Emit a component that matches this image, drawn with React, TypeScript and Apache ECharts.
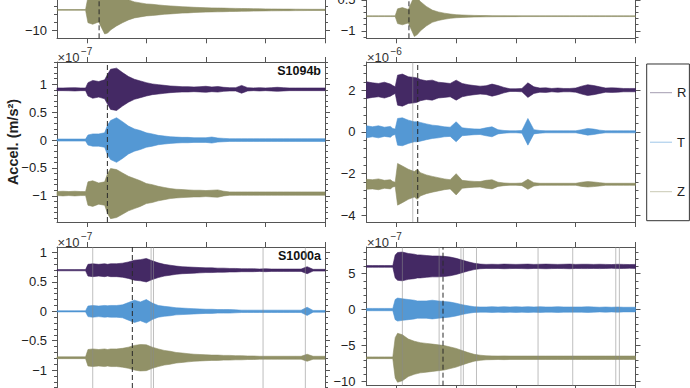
import React, { useEffect, useRef } from "react";
import * as echarts from "echarts";

// ---------- data ----------
const TIME = [
  -0.5, -0.4, -0.3, -0.2, -0.1, -0.06, -0.02,
  0.02, 0.1, 0.2, 0.3, 0.35, 0.4,
  0.5, 0.6, 0.7, 0.8, 0.9, 1.0,
  1.1, 1.2, 1.3, 1.4, 1.5, 1.6, 1.7, 1.8, 1.9, 2.0,
  2.1, 2.2, 2.3, 2.4, 2.5, 2.6, 2.7, 2.8, 2.9, 3.0,
  3.1, 3.2, 3.3, 3.4, 3.5, 3.6, 3.7, 3.8, 3.9, 4.0,
];
const X_TICKS = [0, 1, 2, 3, 4];
const COMPONENTS = ["R", "T", "Z"];

// envelope half-amplitudes (axis units) for each trace
const TOP_L_Z = [
  0.1, 0.1, 0.1, 0.1, 0.1, 0.1, 0.1,
  3.2, 3.6, 3.0, 6, 5.8, 5,
  4, 3.2, 2.5, 2, 1.75, 1.5,
  1.4, 1.25, 1.1, 1.0, 0.9, 0.8, 0.75, 0.65, 0.6, 0.55,
  0.5, 0.48, 0.45, 0.4, 0.38, 0.35, 0.32, 0.3, 0.28, 0.25,
  0.23, 0.22, 0.2, 0.2, 0.18, 0.17, 0.16, 0.15, 0.15, 0.15,
];
const TOP_R_Z = [
  0.006, 0.006, 0.006, 0.006, 0.006, 0.006, 0.006,
  0.12, 0.14, 0.11, 0.33, 0.3, 0.24,
  0.16, 0.1, 0.07, 0.05, 0.035, 0.025,
  0.02, 0.016, 0.013, 0.011, 0.01, 0.009, 0.008, 0.008, 0.007, 0.007,
  0.006, 0.006, 0.006, 0.006, 0.006, 0.006, 0.006, 0.006, 0.006, 0.006,
  0.006, 0.006, 0.006, 0.006, 0.006, 0.006, 0.006, 0.006, 0.006, 0.006,
];
const S1094B_R = [
  0.024, 0.024, 0.026, 0.03, 0.024, 0.024, 0.024,
  0.12, 0.16, 0.14, 0.17, 0.27, 0.36,
  0.38, 0.3, 0.23, 0.18, 0.15, 0.12,
  0.096, 0.084, 0.072, 0.06, 0.054, 0.048, 0.048, 0.042, 0.048, 0.054,
  0.042, 0.05, 0.036, 0.03, 0.03, 0.07, 0.03, 0.024, 0.03, 0.024,
  0.03, 0.036, 0.03, 0.024, 0.024, 0.024, 0.024, 0.024, 0.024, 0.024,
];
const S1094B_T = [
  0.018, 0.018, 0.018, 0.018, 0.018, 0.018, 0.018,
  0.09, 0.11, 0.11, 0.13, 0.27, 0.35,
  0.4, 0.33, 0.25, 0.2, 0.17, 0.13,
  0.11, 0.084, 0.072, 0.06, 0.054, 0.048, 0.048, 0.042, 0.042, 0.042,
  0.054, 0.036, 0.03, 0.024, 0.024, 0.024, 0.024, 0.024, 0.024, 0.024,
  0.024, 0.024, 0.024, 0.024, 0.024, 0.024, 0.024, 0.024, 0.024, 0.024,
];
const S1094B_Z = [
  0.036, 0.042, 0.036, 0.042, 0.036, 0.036, 0.036,
  0.21, 0.23, 0.19, 0.21, 0.36, 0.45,
  0.43, 0.37, 0.31, 0.27, 0.23, 0.18,
  0.16, 0.13, 0.11, 0.09, 0.078, 0.072, 0.066, 0.06, 0.06, 0.054,
  0.06, 0.066, 0.042, 0.03, 0.03, 0.03, 0.03, 0.03, 0.03, 0.03,
  0.03, 0.03, 0.03, 0.03, 0.03, 0.03, 0.03, 0.03, 0.03, 0.03,
];
const MIDR_R = [
  0.4, 0.35, 0.32, 0.38, 0.29, 0.22, 0.16,
  0.72, 0.77, 0.64, 0.61, 0.58, 0.51,
  0.45, 0.48, 0.38, 0.35, 0.32, 0.48,
  0.32, 0.26, 0.22, 0.19, 0.21, 0.29, 0.22, 0.13, 0.064, 0.064,
  0.08, 0.35, 0.16, 0.1, 0.11, 0.08, 0.1, 0.08, 0.08, 0.1,
  0.19, 0.26, 0.22, 0.16, 0.1, 0.11, 0.1, 0.08, 0.08, 0.08,
];
const MIDR_T = [
  0.29, 0.24, 0.29, 0.22, 0.26, 0.16, 0.13,
  0.64, 0.67, 0.56, 0.48, 0.48, 0.45,
  0.38, 0.32, 0.29, 0.24, 0.22, 0.48,
  0.19, 0.16, 0.14, 0.13, 0.19, 0.24, 0.1, 0.064, 0.048, 0.048,
  0.064, 0.64, 0.1, 0.064, 0.048, 0.048, 0.048, 0.048, 0.048, 0.048,
  0.1, 0.16, 0.13, 0.08, 0.048, 0.048, 0.048, 0.048, 0.048, 0.048,
];
const MIDR_Z = [
  0.24, 0.22, 0.26, 0.19, 0.22, 0.13, 0.1,
  1.0, 0.88, 0.72, 0.61, 0.72, 0.56,
  0.45, 0.38, 0.32, 0.26, 0.22, 0.51,
  0.19, 0.16, 0.14, 0.13, 0.19, 0.22, 0.1, 0.064, 0.048, 0.048,
  0.064, 0.24, 0.08, 0.048, 0.048, 0.048, 0.048, 0.048, 0.048, 0.048,
  0.1, 0.13, 0.11, 0.08, 0.048, 0.048, 0.048, 0.048, 0.048, 0.048,
];
const S1000A_R = [
  0.01, 0.01, 0.01, 0.01, 0.01, 0.01, 0.01,
  0.1, 0.11, 0.1, 0.11, 0.1, 0.11,
  0.11, 0.12, 0.14, 0.17, 0.18, 0.2,
  0.16, 0.125, 0.1, 0.085, 0.07, 0.06, 0.055, 0.05, 0.045, 0.04,
  0.04, 0.035, 0.035, 0.03, 0.03, 0.025, 0.025, 0.025, 0.02, 0.025,
  0.02, 0.02, 0.02, 0.02, 0.02, 0.02, 0.06, 0.015, 0.015, 0.015,
];
const S1000A_T = [
  0.01, 0.01, 0.01, 0.01, 0.01, 0.01, 0.01,
  0.09, 0.1, 0.09, 0.1, 0.095, 0.1,
  0.1, 0.11, 0.15, 0.19, 0.16, 0.2,
  0.14, 0.1, 0.085, 0.075, 0.06, 0.055, 0.05, 0.045, 0.04, 0.035,
  0.035, 0.03, 0.03, 0.03, 0.025, 0.02, 0.02, 0.02, 0.02, 0.02,
  0.02, 0.02, 0.02, 0.02, 0.02, 0.02, 0.07, 0.015, 0.015, 0.015,
];
const S1000A_Z = [
  0.015, 0.015, 0.015, 0.015, 0.015, 0.015, 0.015,
  0.14, 0.15, 0.14, 0.15, 0.14, 0.15,
  0.15, 0.16, 0.18, 0.21, 0.225, 0.22,
  0.18, 0.15, 0.125, 0.11, 0.09, 0.08, 0.07, 0.06, 0.055, 0.05,
  0.045, 0.045, 0.04, 0.04, 0.035, 0.035, 0.03, 0.03, 0.025, 0.025,
  0.025, 0.025, 0.025, 0.025, 0.025, 0.025, 0.06, 0.025, 0.025, 0.025,
];
const BOTR_R = [
  0.12, 0.12, 0.12, 0.12, 0.12, 0.12, 1.6,
  1.93, 2.0, 1.8, 1.7, 1.6, 1.6,
  1.52, 1.45, 1.45, 1.4, 1.3, 1.12,
  0.88, 0.64, 0.44, 0.32, 0.28, 0.3, 0.28, 0.32, 0.3, 0.28,
  0.3, 0.32, 0.28, 0.3, 0.32, 0.3, 0.28, 0.3, 0.32, 0.28,
  0.3, 0.3, 0.28, 0.3, 0.28, 0.26, 0.3, 0.28, 0.26, 0.28,
];
const BOTR_T = [
  0.16, 0.16, 0.16, 0.16, 0.16, 0.16, 1.4,
  1.6, 1.5, 1.4, 1.3, 1.2, 1.2,
  1.2, 1.3, 1.2, 1.12, 1.04, 0.88,
  0.68, 0.52, 0.4, 0.36, 0.36, 0.4, 0.36, 0.4, 0.36, 0.4,
  0.36, 0.4, 0.36, 0.4, 0.36, 0.36, 0.4, 0.36, 0.36, 0.36,
  0.36, 0.4, 0.36, 0.32, 0.36, 0.32, 0.36, 0.32, 0.32, 0.32,
];
const BOTR_Z = [
  0.12, 0.12, 0.12, 0.12, 0.12, 0.12, 2.8,
  3.4, 3.2, 2.6, 2.3, 2.2, 2.1,
  2.0, 1.9, 1.8, 1.7, 1.5, 1.3,
  1.0, 0.72, 0.48, 0.36, 0.28, 0.26, 0.24, 0.26, 0.24, 0.24,
  0.24, 0.24, 0.24, 0.24, 0.24, 0.24, 0.24, 0.24, 0.24, 0.24,
  0.24, 0.24, 0.24, 0.24, 0.24, 0.24, 0.24, 0.24, 0.24, 0.24,
];

// trace offsets (axis units) per panel
const BASE_TOP_L = [-4.8];
const BASE_TOP_R = [-0.763];
const BASE_S1094B = [0.91, 0, -0.96];
const BASE_MIDR = [2.0, 0, -2.52];
const BASE_S1000A = [0.7, 0, -0.79];
const BASE_BOTR = [6.0, 0, -6.7];

// arrival picks (dashed) and glitch spikes (grey)
const ARRIVALS = [0.207, 0.21, 0.346, 0.357, 0.765, 0.78];
const SPIKES = [[], [], [], [0.274], [0.1, 1.08, 1.12, 2.96, 3.67], [0.1, 0.715, 1.08, 1.12, 1.34, 2.37, 2.95, 3.67, 3.73]];

// y-axis ticks and tick labels (visible part of each panel)
const Y_MAJOR = [
  [-10],
  [-1, -0.5],
  [-1, -0.5, 0, 0.5, 1],
  [-4, -2, 0, 2],
  [-1, -0.5, 0, 0.5, 1],
  [-10, -5, 0, 5],
];
const Y_LABELS = [
  [-10],
  [-1],
  [-1, -0.5, 0, 0.5, 1],
  [-4, -2, 0, 2],
  [-1, -0.5, 0, 0.5, 1],
  [-10, -5, 0, 5],
];
const CUT_LABEL = "\u22120.5"; // top-right panel label cut by the page edge
const Y_RANGE = [
  [-11.9, -2.325],
  [-1.123, -0.499],
  [-1.47, 1.4],
  [-4.33, 3.35],
  [-1.305, 1.095],
  [-10.58, 8.7],
];
const Y_MINOR_STEP = [2, 0.1, 0.1, 0.4, 0.1, 1];
const EXPONENTS = [null, null, "\u22127", "\u22126", "\u22127", "\u22127"];
const TITLES = [null, null, "S1094b", null, "S1000a", null];

const PANEL_TRACES = [
  { comps: ["Z"], amps: [TOP_L_Z], base: BASE_TOP_L },
  { comps: ["Z"], amps: [TOP_R_Z], base: BASE_TOP_R },
  { comps: COMPONENTS, amps: [S1094B_R, S1094B_T, S1094B_Z], base: BASE_S1094B },
  { comps: COMPONENTS, amps: [MIDR_R, MIDR_T, MIDR_Z], base: BASE_MIDR },
  { comps: COMPONENTS, amps: [S1000A_R, S1000A_T, S1000A_Z], base: BASE_S1000A },
  { comps: COMPONENTS, amps: [BOTR_R, BOTR_T, BOTR_Z], base: BASE_BOTR },
];

// ---------- style / layout ----------
const COLORS: Record<string, string> = { R: "#3a1d5c", T: "#4b92d2", Z: "#8b8b5f" };
const LEGEND_COLORS: Record<string, string> = { R: "#a39cb0", T: "#9ec6e8", Z: "#c9c9b3" };
const FONT = "Liberation Sans, Arial, sans-serif";
const AXIS_COLOR = "#555";
const ROW_TOP = [0, 62, 247];
const ROW_H = [38.3, 160, 160];
const COL_LEFT = [57, 366.5];
const COL_W = [268, 269];

function fmt(v: number) {
  return v < 0 ? "\u2212" + String(Math.abs(v)) : String(v);
}
function minorTicks(min: number, max: number, step: number, majors: number[]) {
  const out: number[] = [];
  const s = Math.ceil(min / step - 1e-9);
  const e = Math.floor(max / step + 1e-9);
  for (let k = s; k <= e; k++) {
    const v = +(k * step).toFixed(6);
    if (!majors.some((m) => Math.abs(m - v) < 1e-9)) out.push(v);
  }
  return out;
}

function buildOption() {
  const grid: any[] = [];
  const xAxis: any[] = [];
  const yAxis: any[] = [];
  const series: any[] = [];
  const elements: any[] = [];
  const line = { color: AXIS_COLOR, width: 1 };

  for (let k = 0; k < 6; k++) {
    const row = Math.floor(k / 2);
    const col = k % 2;
    const [yMin, yMax] = Y_RANGE[k];
    grid.push({ left: COL_LEFT[col], top: ROW_TOP[row], width: COL_W[col], height: ROW_H[row], show: false });
    const xi = xAxis.length;
    for (const pos of ["bottom", "top"]) {
      xAxis.push({
        type: "value", gridIndex: k, position: pos, min: -0.5, max: 4,
        axisLine: { show: !(row === 0 && pos === "top"), onZero: false, lineStyle: line },
        axisTick: { show: !(row === 0 && pos === "top"), inside: false, length: 5, customValues: X_TICKS, lineStyle: line },
        axisLabel: { show: false }, splitLine: { show: false },
      });
    }
    const yi = yAxis.length;
    const minors = minorTicks(yMin, yMax, Y_MINOR_STEP[k], Y_MAJOR[k]);
    for (const pos of ["left", "right"]) {
      yAxis.push({
        type: "value", gridIndex: k, position: pos, min: yMin, max: yMax,
        axisLine: { show: true, onZero: false, lineStyle: line },
        axisTick: { show: true, inside: false, length: 5, customValues: Y_MAJOR[k], lineStyle: line },
        axisLabel: pos === "left"
          ? { show: true, customValues: Y_LABELS[k], formatter: fmt, margin: col === 0 ? 10 : 11, fontSize: 13, color: "#222", fontFamily: FONT }
          : { show: false },
        splitLine: { show: false },
      });
      yAxis.push({
        type: "value", gridIndex: k, position: pos, min: yMin, max: yMax,
        axisLine: { show: false, onZero: false },
        axisTick: { show: true, inside: false, length: 3, customValues: minors, lineStyle: line },
        axisLabel: { show: false }, splitLine: { show: false },
      });
    }

    const pt = PANEL_TRACES[k];
    pt.comps.forEach((c, j) => {
      const amp = pt.amps[j];
      const base = pt.base[j];
      series.push({
        type: "custom", name: c, xAxisIndex: xi, yAxisIndex: yi, silent: true,
        itemStyle: { color: COLORS[c] },
        data: TIME.map((t, i) => [t, base + amp[i], base - amp[i]]),
        encode: { x: 0, y: [1, 2] },
        renderItem: (params: any, api: any) => {
          if (params.dataIndex !== 0) return null;
          const pts: number[][] = [];
          for (let i = 0; i < TIME.length; i++) pts.push(api.coord([TIME[i], base + amp[i]]));
          for (let i = TIME.length - 1; i >= 0; i--) pts.push(api.coord([TIME[i], base - amp[i]]));
          return {
            type: "polygon", shape: { points: pts },
            style: { fill: COLORS[c], stroke: COLORS[c], lineWidth: 0.6, opacity: 0.95 },
          };
        },
      });
    });

    SPIKES[k].forEach((s) => {
      series.push({
        type: "line", xAxisIndex: xi, yAxisIndex: yi, silent: true, symbol: "none",
        data: [[s, yMin], [s, yMax]],
        lineStyle: { color: "#8a8a8a", width: 0.8, opacity: 0.7 },
      });
    });
    series.push({
      type: "line", xAxisIndex: xi, yAxisIndex: yi, silent: true, symbol: "none",
      data: [[ARRIVALS[k], yMin], [ARRIVALS[k], yMax]],
      lineStyle: { color: "#2a2a2a", width: 1, type: [5, 3] },
    });

    if (EXPONENTS[k]) {
      elements.push({
        type: "text", x: COL_LEFT[col] + 0.5, y: ROW_TOP[row] - 4.8,
        style: { text: "\u00d710", fontSize: 13, fill: "#333", fontFamily: FONT, align: "left", verticalAlign: "middle" },
      });
      elements.push({
        type: "text", x: COL_LEFT[col] + 24, y: ROW_TOP[row] - 10.5,
        style: { text: EXPONENTS[k], fontSize: 10, fill: "#333", fontFamily: FONT, align: "left", verticalAlign: "middle" },
      });
    }
    if (TITLES[k]) {
      elements.push({
        type: "text", x: COL_LEFT[col] + COL_W[col] - 4, y: ROW_TOP[row] + 8.7,
        style: { text: TITLES[k], fontSize: 12.5, fontWeight: "bold", fill: "#111", fontFamily: FONT, align: "right", verticalAlign: "middle" },
      });
    }
  }

  // label of the top-right panel, half hidden above the page edge
  elements.push({
    type: "text", x: COL_LEFT[1] - 11, y: -1,
    style: { text: CUT_LABEL, fontSize: 13, fill: "#222", fontFamily: FONT, align: "right", verticalAlign: "middle" },
  });

  elements.push({
    type: "text", x: 12.5, y: 142, rotation: Math.PI / 2,
    style: { text: "Accel. (m/s\u00b2)", fontSize: 14.5, fontWeight: "bold", fill: "#222", fontFamily: FONT, align: "center", verticalAlign: "middle" },
  });

  return {
    animation: false,
    backgroundColor: "#fff",
    grid, xAxis, yAxis, series,
    graphic: { elements },
    legend: {
      orient: "vertical", left: 646.7, top: 64,
      padding: [21.7, 3, 22, 3.3], itemGap: 35.5, itemWidth: 22, itemHeight: 1, icon: "rect",
      borderColor: "#333", borderWidth: 1, selectedMode: false,
      textStyle: { fontSize: 13, lineHeight: 14, color: "#222", fontFamily: FONT },
      data: COMPONENTS.map((c) => ({ name: c, itemStyle: { color: LEGEND_COLORS[c] } })),
    },
  };
}

export default function App() {
  const ref = useRef<HTMLDivElement>(null);
  useEffect(() => {
    if (!ref.current) return;
    const chart = echarts.init(ref.current, null, { renderer: "svg" });
    chart.setOption(buildOption() as any);
    return () => chart.dispose();
  }, []);
  return <div ref={ref} style={{ position: "fixed", left: 0, top: 0, width: 690, height: 388 }} />;
}
